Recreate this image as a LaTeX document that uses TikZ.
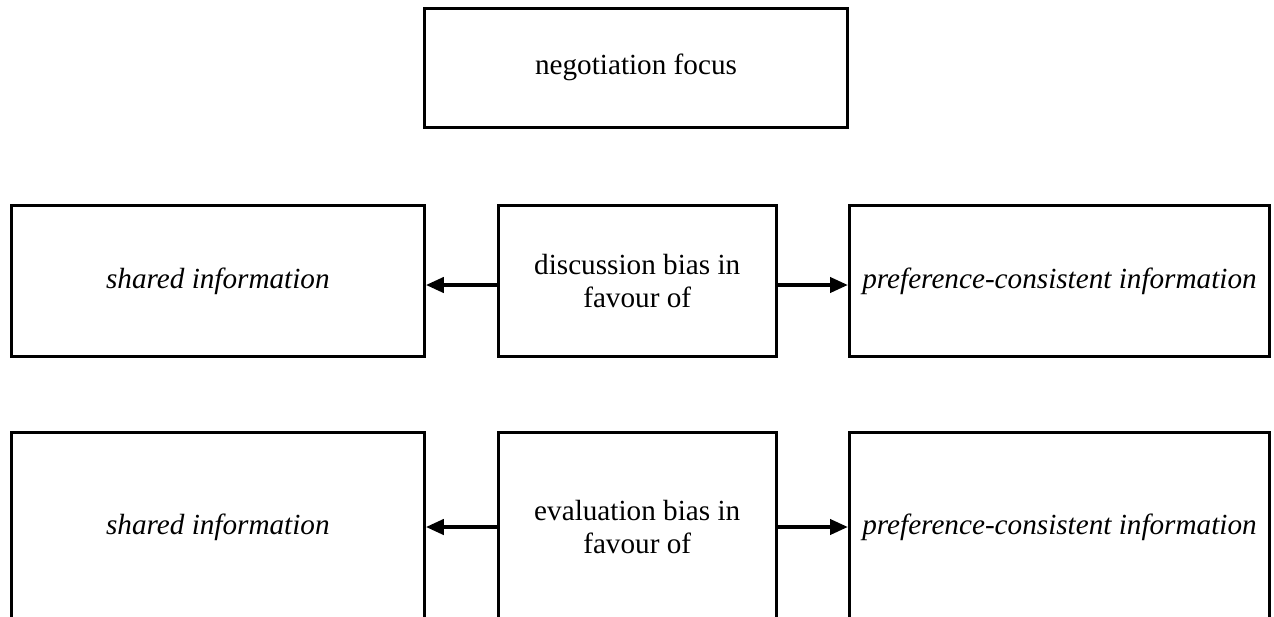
\documentclass[tikz,border=0pt]{standalone}
\usepackage{fontspec}
\setmainfont{Liberation Serif}
\usetikzlibrary{arrows.meta}
\newcommand{\diagfont}{\fontsize{14.6}{16.3}\selectfont}
\tikzset{box/.style={draw, rectangle, line width=1.5pt, align=center, inner sep=2pt, font=\diagfont}}
\tikzset{arrow/.style={-{Triangle[length=9pt,width=7.5pt]}, line width=2pt}}
\tikzset{sidebox/.style={box, font=\diagfont\itshape}}
\tikzset{rowone/.style={minimum height=75.5pt}}
\tikzset{rowtwo/.style={minimum height=95pt}}

\begin{document}
\begin{tikzpicture}[x=0.5pt,y=-0.5pt]
  \useasboundingbox (0,0) rectangle (1274,616);

  % Focus
  \node[box, minimum width=211.5pt, minimum height=59.25pt] (focus) at (636,67.75) {negotiation focus};

  % Discussion
  \node[box, rowone, minimum width=138.85pt] (dmid) at (637.2,281) {discussion bias in\\favour of};
  \node[sidebox, rowone, minimum width=206.4pt] (dleft) at (217.9,281) {shared information};
  \node[sidebox, rowone, minimum width=210pt] (dright) at (1059.5,281) {preference-consistent information};
  \draw[arrow] ([yshift=-2pt]dmid.west) -- ([yshift=-2pt]dleft.east);
  \draw[arrow] ([yshift=-2pt]dmid.east) -- ([yshift=-2pt]dright.west);

  % Evaluation
  \node[box, rowtwo, minimum width=138.85pt] (emid) at (637.2,527) {evaluation bias in\\favour of};
  \node[sidebox, rowtwo, minimum width=206.4pt] (eleft) at (217.9,527) {shared information};
  \node[sidebox, rowtwo, minimum width=210pt] (eright) at (1059.5,527) {preference-consistent information};
  \draw[arrow] (emid.west) -- (eleft.east);
  \draw[arrow] (emid.east) -- (eright.west);
\end{tikzpicture}
\end{document}
